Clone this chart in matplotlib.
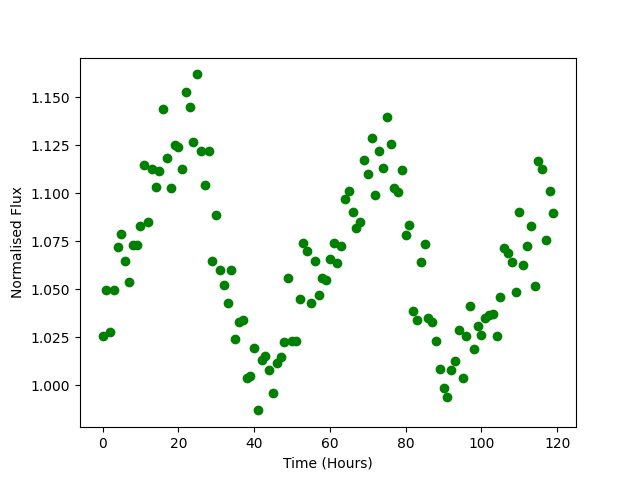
import numpy as np
import matplotlib
matplotlib.use('Agg')
import matplotlib.pyplot as plt

# Hourly samples
time_hours = np.arange(120)

# Normalised flux
flux = [
    1.0255, 1.0495, 1.0276, 1.0495, 1.072, 1.079, 1.065, 1.054, 1.073, 1.073,
    1.083, 1.115, 1.085, 1.1125, 1.1035, 1.1115, 1.144, 1.1185, 1.103, 1.125,
    1.124, 1.1125, 1.153, 1.145, 1.127, 1.162, 1.122, 1.1045, 1.122, 1.065,
    1.089, 1.060, 1.0525, 1.043, 1.060, 1.024, 1.033, 1.034, 1.004, 1.005,
    1.0195, 0.987, 1.0135, 1.0155, 1.008, 0.996, 1.0115, 1.015, 1.0225, 1.056,
    1.023, 1.023, 1.045, 1.074, 1.070, 1.043, 1.065, 1.047, 1.056, 1.055,
    1.066, 1.074, 1.064, 1.0725, 1.097, 1.1015, 1.0905, 1.082, 1.085, 1.1175,
    1.110, 1.129, 1.099, 1.122, 1.113, 1.140, 1.126, 1.103, 1.101, 1.112,
    1.0785, 1.0835, 1.039, 1.034, 1.0645, 1.0735, 1.035, 1.033, 1.023, 1.0085,
    0.9985, 0.994, 1.008, 1.0125, 1.029, 1.004, 1.0255, 1.0415, 1.019, 1.031,
    1.0265, 1.035, 1.0365, 1.037, 1.0255, 1.046, 1.0715, 1.069, 1.0645, 1.0485,
    1.0905, 1.0625, 1.0725, 1.083, 1.052, 1.117, 1.1125, 1.076, 1.1015, 1.090,
]

plt.figure(figsize=(6.4, 4.8), dpi=100)
plt.plot(time_hours, flux, 'go')
plt.xlabel('Time (Hours)')
plt.ylabel('Normalised Flux')
plt.savefig('out.png')
